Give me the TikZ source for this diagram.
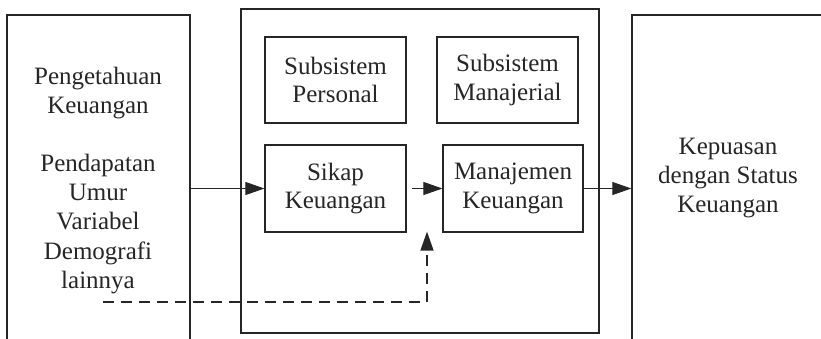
\documentclass[tikz,border=0pt]{standalone}
\usepackage{fontspec}
\setmainfont{Liberation Serif}
\usetikzlibrary{arrows.meta}
\definecolor{ink}{HTML}{262626}
\tikzset{
  frame/.style={draw=ink, line width=1.3pt, inner sep=0pt},
  inbox/.style={draw=ink, line width=1.2pt, minimum width=141pt, minimum height=86pt,
    align=center, inner sep=0pt, text=ink, font=\fontsize{25}{28.5}\selectfont},
  lbl/.style={align=center, inner sep=0pt, text=ink, font=\fontsize{25}{29.3}\selectfont},
  flow/.style={draw=ink, line width=0.9pt, -{Triangle[length=19pt,width=13pt]}},
  dflow/.style={draw=ink, line width=1.4pt, dash pattern=on 11pt off 7pt,
    -{Triangle[length=19pt,width=13pt]}},
}
\begin{document}
\begin{tikzpicture}[x=1pt,y=-1pt]
  \useasboundingbox (0,0) rectangle (821,338);
  \clip (0,0) rectangle (821,338);
  \fill[white] (0,0) rectangle (821,338);

  % outer columns (left and right run past the lower edge)
  \node[frame, minimum width=183pt, minimum height=346pt] (inputs) at (98.5,188) {};
  \node[frame, minimum width=358pt, minimum height=324pt] (system) at (420,171) {};
  \node[frame, minimum width=210pt, minimum height=346pt] (outcome) at (737,188) {};

  % left column text
  \node[lbl] (know) at (98,93) {Pengetahuan\\Keuangan};
  \node[lbl] (demo) at (98,224) {Pendapatan\\Umur\\Variabel\\Demografi\\lainnya};

  % inner boxes
  \node[inbox] (personal) at (335.5,80) {Subsistem\\Personal};
  \node[inbox] (managerial) at (507.5,80) {Subsistem\\Manajerial};
  \node[inbox, minimum height=87pt] (attitude) at (335.5,188.5) {Sikap\\Keuangan};
  \node[inbox, minimum width=140pt, minimum height=87pt] (management) at (513,188.5) {Manajemen\\Keuangan};

  % right column text
  \node[lbl] (satisfaction) at (728,178) {Kepuasan\\dengan Status\\Keuangan};

  % connectors
  \draw[flow] (attitude.west -| inputs.east) -- (attitude.west);
  \draw[flow] ([xshift=5pt]attitude.east) -- (management.west);
  \draw[flow] (management.east) -- (outcome.west |- management.east);

  \coordinate (dstart) at (103,302);
  \coordinate (dturn) at (427,302);
  \draw[dflow] (dstart) -- (dturn) -- ([yshift=1pt]dturn |- management.south);
\end{tikzpicture}
\end{document}
